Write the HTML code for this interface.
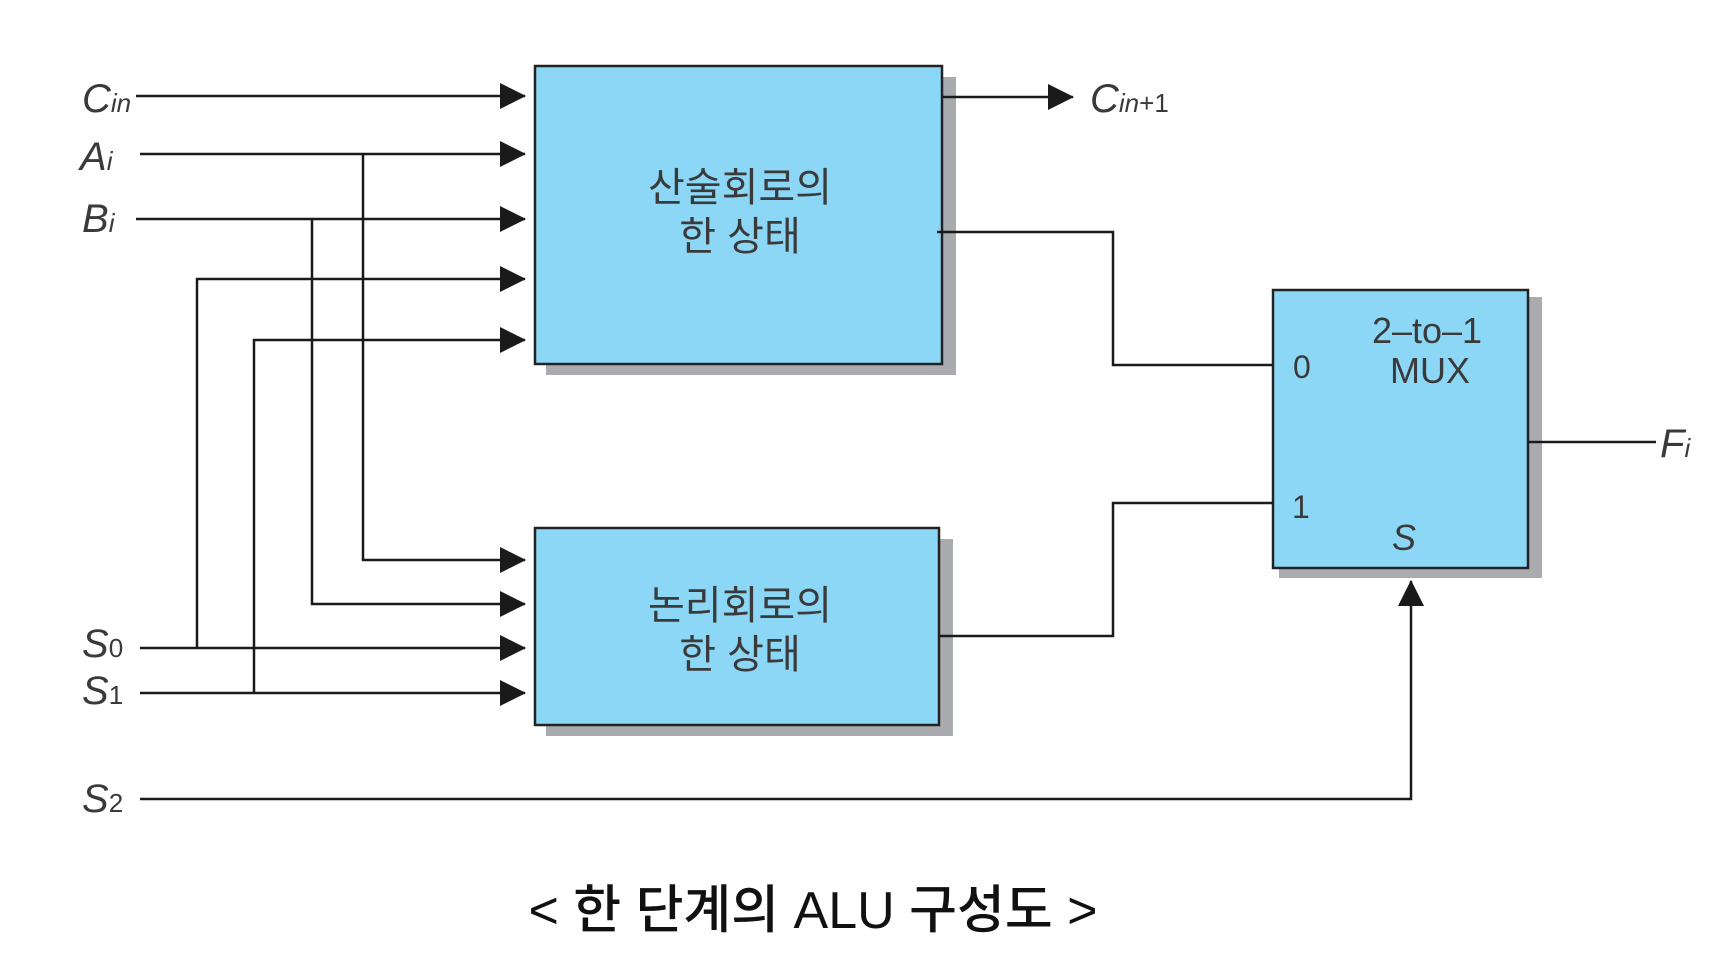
<!DOCTYPE html>
<html><head><meta charset="utf-8"><style>
html,body{margin:0;padding:0;background:#fff;}
svg{display:block}
text{font-family:"Liberation Sans","Noto Sans CJK KR",sans-serif;fill:#3a3a3a}
</style></head><body>
<svg width="1722" height="972" viewBox="0 0 1722 972" xmlns="http://www.w3.org/2000/svg">
<defs>
<marker id="a" markerWidth="26" markerHeight="26" refX="25" refY="13" orient="auto" markerUnits="userSpaceOnUse">
<path d="M0,0 L26,13 L0,26 Z" fill="#1a1a1a"/></marker>
</defs>
<rect x="546" y="77" width="410" height="298" fill="#a9abae"/>
<rect x="546" y="539" width="407" height="197" fill="#a9abae"/>
<rect x="1279" y="297" width="263" height="281" fill="#a9abae"/>
<rect x="535" y="66" width="407" height="298" fill="#8dd7f6" stroke="#222" stroke-width="2.5"/>
<rect x="535" y="528" width="404" height="197" fill="#8dd7f6" stroke="#222" stroke-width="2.5"/>
<rect x="1273" y="290" width="255" height="278" fill="#8dd7f6" stroke="#222" stroke-width="2.5"/>
<g stroke="#1a1a1a" stroke-width="2.5" fill="none">
<line x1="136" y1="96" x2="525" y2="96" marker-end="url(#a)"/>
<line x1="140" y1="154" x2="525" y2="154" marker-end="url(#a)"/>
<line x1="136" y1="219" x2="525" y2="219" marker-end="url(#a)"/>
<polyline points="197,648 197,279 525,279" marker-end="url(#a)"/>
<polyline points="254,693 254,340 525,340" marker-end="url(#a)"/>
<polyline points="363,154 363,560 525,560" marker-end="url(#a)"/>
<polyline points="312,219 312,604 525,604" marker-end="url(#a)"/>
<line x1="140" y1="648" x2="525" y2="648" marker-end="url(#a)"/>
<line x1="140" y1="693" x2="525" y2="693" marker-end="url(#a)"/>
<line x1="942" y1="97" x2="1073" y2="97" marker-end="url(#a)"/>
<polyline points="937,232 1113,232 1113,365 1273,365"/>
<polyline points="939,636 1113,636 1113,503 1273,503"/>
<line x1="1528" y1="442" x2="1656" y2="442"/>
<polyline points="140,799 1411,799 1411,581" marker-end="url(#a)"/>
</g>
<g font-style="italic" font-size="40">
<text x="82" y="112">C<tspan font-size="26">in</tspan></text>
<text x="80" y="170">A<tspan font-size="26">i</tspan></text>
<text x="82" y="232">B<tspan font-size="26">i</tspan></text>
<text x="82" y="657">S<tspan font-size="26" font-style="normal">0</tspan></text>
<text x="82" y="704">S<tspan font-size="26" font-style="normal">1</tspan></text>
<text x="82" y="812">S<tspan font-size="26" font-style="normal">2</tspan></text>
<text x="1090" y="112">C<tspan font-size="26">in</tspan><tspan font-size="26" font-style="normal">+1</tspan></text>
<text x="1660" y="457">F<tspan font-size="26">i</tspan></text>
<text x="1392" y="550" font-size="36">S</text>
</g>
<g font-size="40" text-anchor="middle">
<text x="740" y="201">산술회로의</text>
<text x="740" y="250">한 상태</text>
<text x="740" y="619">논리회로의</text>
<text x="740" y="668">한 상태</text>
</g>
<g font-size="36" text-anchor="middle">
<text x="1427" y="343">2–to–1</text>
<text x="1430" y="383">MUX</text>
</g>
<text x="1293" y="378" font-size="32">0</text>
<text x="1292" y="518" font-size="32">1</text>
<text x="813" y="928" font-size="52" text-anchor="middle" style="fill:#111;font-weight:500">&lt; 한 단계의 ALU 구성도 &gt;</text>
</svg>
</body></html>
